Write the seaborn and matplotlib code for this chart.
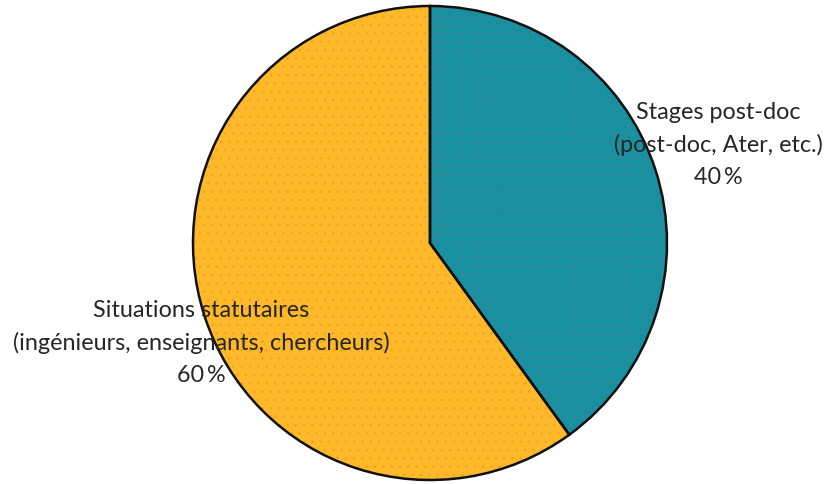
import matplotlib
matplotlib.use("Agg")
import matplotlib.pyplot as plt
import seaborn as sns

sns.set_theme(style="white")
plt.rcParams['font.family'] = ['Lato', 'DejaVu Sans']
plt.rcParams['hatch.linewidth'] = 0.6

categories = ["Stages post-doc\n(post-doc, Ater, etc.)",
              "Situations statutaires\n(ingénieurs, enseignants, chercheurs)"]
values = [40, 60]
colors = ["#17909f", "#fdb92a"]
hatch_colors = ["#4f7f9a", "#f4a21e"]

fig = plt.figure(figsize=(8.4, 4.84), dpi=100)
ax = fig.add_axes([0, 0, 1, 1])

center = (430, 241)
radius = 237

# base fill
ax.pie(values, colors=colors, startangle=90, counterclock=False,
       center=center, radius=radius, frame=True,
       wedgeprops=dict(linewidth=0))
# subtle texture
wedges, _ = ax.pie(values, colors=["none", "none"], startangle=90, counterclock=False,
                   center=center, radius=radius, frame=True,
                   wedgeprops=dict(linewidth=0, fill=False))
for w, hc in zip(wedges, hatch_colors):
    w.set_hatch("..")
    w.set_edgecolor(hc)
# outline
ax.pie(values, colors=["none", "none"], startangle=90, counterclock=False,
       center=center, radius=radius, frame=True,
       wedgeprops=dict(linewidth=1.8, edgecolor="#111111", fill=False))
ax.set_xlim(0, 840)
ax.set_ylim(0, 484)
ax.set_aspect("equal")
ax.axis("off")

label_pos = [(718, 484 - 145), (201, 484 - 343)]
for cat, v, (x, y) in zip(categories, values, label_pos):
    ax.text(x, y, f"{cat}\n{v}\u2009%", ha="center", va="center",
            fontsize=16.8, color="#262626", linespacing=1.62)

fig.savefig("out.png", dpi=100)
